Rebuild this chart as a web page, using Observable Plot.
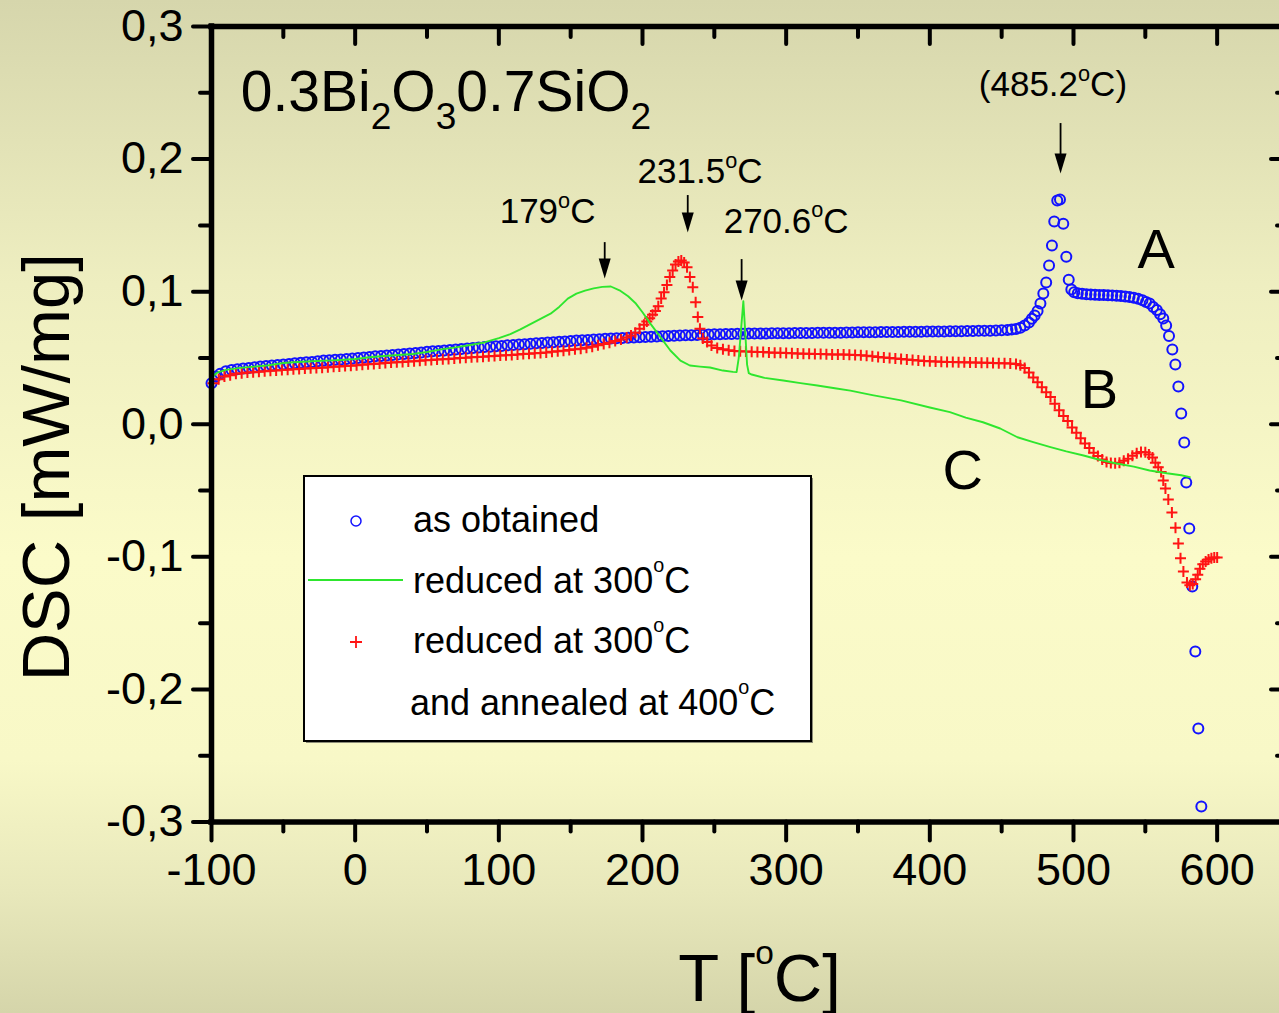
<!DOCTYPE html>
<html><head><meta charset="utf-8">
<script src="https://cdn.jsdelivr.net/npm/d3@7"></script>
<script src="https://cdn.jsdelivr.net/npm/@observablehq/plot@0.6"></script>
<style>
html,body{margin:0;padding:0;}
body{width:1279px;height:1013px;overflow:hidden;background:linear-gradient(to bottom,#d6d6ac 0%,#eeeec0 28%,#fbfbc9 55%,#f8f8c7 75%,#e8e8bb 88%,#d5d5aa 100%);}
#chart{position:relative;width:1279px;height:1013px;}
</style></head><body><div id="chart"></div>
<script>
// ---- axis ticks ----
const xMajor = [-100, 0, 100, 200, 300, 400, 500, 600];
const xMinor = [-50, 50, 150, 250, 350, 450, 550];
const yMajor = [-0.3, -0.2, -0.1, 0, 0.1, 0.2, 0.3];
const yMinor = [-0.25, -0.15, -0.05, 0.05, 0.15, 0.25];

// ---- series A: as obtained (blue circles) [T, DSC] ----
const seriesA = [[-100,.031],[-97,.036],[-94,.038],[-90,.040],[-86,.041],[-82,.0415],[-78,.042],[-74,.0425],[-70,.043],[-66,.0435],[-62,.044],[-58,.0443],[-54,.0447],[-50,.045],[-46,.0455],[-42,.046],[-38,.0463],[-34,.0467],[-30,.047],[-26,.0475],[-22,.048],[-18,.0483],[-14,.0486],[-10,.0489],[-6,.0492],[-2,.0495],[2,.050],[6,.0504],[10,.0508],[14,.0512],[18,.0515],[22,.0519],[26,.0523],[30,.0527],[34,.053],[38,.0534],[42,.0538],[46,.0542],[50,.0546],[54,.055],[58,.0553],[62,.0557],[66,.056],[70,.0564],[74,.0568],[78,.0572],[82,.0575],[86,.0578],[90,.0582],[94,.0585],[98,.0588],[102,.0591],[106,.0595],[110,.0598],[114,.0601],[118,.0604],[122,.0607],[126,.061],[130,.0613],[134,.0616],[138,.0619],[142,.0622],[146,.0625],[150,.0628],[154,.0631],[158,.0634],[162,.0636],[166,.0639],[170,.0641],[174,.0644],[178,.0646],[182,.0648],[186,.065],[190,.0652],[194,.0654],[198,.0656],[202,.0658],[206,.066],[210,.0662],[214,.0664],[218,.0666],[222,.0668],[226,.0669],[230,.0671],[234,.0672],[238,.0674],[242,.0675],[246,.0677],[250,.0678],[254,.0679],[258,.068],[262,.0681],[266,.0682],[270,.0683],[274,.0684],[278,.0684],[282,.0685],[286,.0685],[290,.0686],[294,.0686],[298,.0687],[302,.0687],[306,.0688],[310,.0688],[314,.0689],[318,.0689],[322,.069],[326,.069],[330,.069],[334,.0691],[338,.0691],[342,.0692],[346,.0692],[350,.0693],[354,.0693],[358,.0694],[362,.0694],[366,.0695],[370,.0695],[374,.0696],[378,.0696],[382,.0697],[386,.0697],[390,.0698],[394,.0698],[398,.0699],[402,.0699],[406,.07],[410,.07],[414,.0701],[418,.0702],[422,.0702],[426,.0703],[430,.0704],[434,.0705],[438,.0705],[442,.0706],[446,.0707],[450,.0709],[454,.0711],[457,.0714],[460,.0719],[463,.0728],[466,.0744],[469,.0768],[471,.0795],[473,.082],[475,.0855],[477,.091],[479,.0986],[481,.1069],[483,.1197],[485,.1348],[486.6,.1529],[488.7,.1687],[490.6,.1695],[492.9,.1513],[495,.1264],[496.7,.109],[498.5,.1016],[500.5,.0995],[503,.0988],[506,.0984],[509,.098],[512,.0978],[515,.0977],[518,.0975],[521,.0974],[524,.0973],[527,.0972],[530,.097],[533,.0968],[536,.0964],[539,.096],[542,.0954],[545,.0946],[548,.0935],[550.5,.0922],[553,.091],[555.5,.0885],[558,.0862],[560.3,.083],[562.5,.0797],[564.5,.0745],[566.5,.0665],[568.8,.0564],[570.9,.045],[573,.0285],[575,.0081],[577.1,-.0138],[578.5,-.044],[580.6,-.0787],[582.7,-.1224],[584.8,-.1714],[586.9,-.2295],[589,-.2883]];

// ---- series B: reduced at 300°C and annealed at 400°C (red plus) ----
const seriesB = [[-99,.031],[-95,.034],[-91,.036],[-87,.037],[-83,.038],[-79,.0385],[-75,.039],[-71,.0393],[-67,.0396],[-63,.04],[-59,.0403],[-55,.0406],[-51,.041],[-47,.0412],[-43,.0415],[-39,.0417],[-35,.042],[-31,.0422],[-27,.0425],[-23,.0427],[-19,.043],[-15,.0433],[-11,.0436],[-7,.0439],[-3,.0442],[1,.0445],[5,.0448],[9,.0452],[13,.0455],[17,.0458],[21,.0462],[25,.0465],[29,.0468],[33,.047],[37,.0473],[41,.0476],[45,.0479],[49,.0482],[53,.0485],[57,.0488],[61,.049],[65,.0493],[69,.0496],[73,.0499],[77,.0502],[81,.0505],[85,.0508],[89,.051],[93,.0513],[97,.0515],[101,.0518],[105,.052],[109,.0523],[113,.0526],[117,.0529],[121,.0532],[125,.0535],[129,.0538],[133,.0542],[137,.0546],[141,.055],[145,.0555],[149,.056],[153,.0565],[157,.057],[161,.0577],[165,.0585],[169,.0595],[173,.0605],[177,.0615],[181,.0627],[185,.064],[189,.0655],[192,.067],[195,.069],[198,.072],[201,.075],[203,.0775],[205,.08],[207,.0825],[209,.0855],[211,.089],[213,.0948],[215,.0995],[217,.105],[219,.111],[221,.116],[223,.1205],[225,.1228],[227,.1235],[229,.122],[231,.1185],[233,.111],[235,.1034],[237,.092],[238.5,.0808],[240,.072],[242,.0647],[245,.062],[248,.0594],[252,.0575],[256,.0565],[260,.0558],[264,.0553],[268,.055],[272,.0548],[276,.0546],[280,.0545],[284,.0544],[288,.0542],[292,.054],[296,.0539],[300,.0537],[304,.0535],[308,.0534],[312,.0532],[316,.0531],[320,.053],[324,.0529],[328,.0528],[332,.0527],[336,.0526],[340,.0526],[344,.0525],[348,.0523],[352,.052],[356,.0516],[360,.0512],[364,.0508],[368,.0504],[372,.05],[376,.0496],[380,.0492],[384,.0488],[388,.0484],[392,.048],[396,.0477],[400,.0475],[404,.0473],[408,.0471],[412,.047],[416,.0469],[420,.0468],[424,.0467],[428,.0466],[432,.0465],[436,.0464],[440,.0463],[444,.0462],[448,.0461],[452,.046],[456,.0458],[460,.0455],[463,.0445],[466,.0425],[469,.039],[472,.0352],[475,.0317],[478,.028],[481,.0242],[484,.0205],[487,.0155],[490,.0105],[493,.0062],[496,.0025],[499,-.0025],[502,-.0065],[505,-.0105],[508,-.0145],[511,-.018],[514,-.0215],[517,-.024],[520,-.0265],[523,-.0285],[526,-.0293],[529,-.0295],[532,-.029],[535,-.0275],[538,-.026],[541,-.0238],[544,-.0218],[547,-.021],[550,-.0212],[552.5,-.0228],[555,-.025],[557,-.029],[559,-.0325],[561,-.036],[562.5,-.0424],[564,-.0485],[566,-.0567],[568.5,-.0666],[571,-.078],[573,-.09],[574.5,-.101],[576.5,-.111],[579,-.1193],[581,-.1215],[583,-.1205],[585,-.117],[586.5,-.1135],[588,-.109],[590,-.1055],[592,-.1035],[594,-.102],[596,-.101],[598,-.1005],[600,-.1005]];

// ---- series C: reduced at 300°C (green line) ----
const seriesC = [[-99,.036],[-96,.039],[-90,.041],[-80,.0425],[-70,.0435],[-60,.0445],[-50,.0462],[-40,.047],[-30,.0475],[-20,.048],[-10,.0485],[0,.0492],[10,.0505],[20,.0515],[30,.0522],[40,.053],[50,.0545],[60,.0565],[70,.058],[80,.0598],[90,.0617],[100,.065],[108,.068],[115,.0715],[122,.0755],[130,.08],[136,.0834],[142,.0885],[148,.0948],[154,.0985],[160,.1008],[166,.1025],[172,.1036],[178,.1039],[184,.101],[190,.0965],[195,.0915],[200,.0845],[205.5,.0759],[212.5,.0657],[219.4,.0556],[226.4,.048],[233,.0443],[240,.0435],[247,.0428],[256,.0405],[263,.0395],[265.5,.0393],[267,.05],[268.5,.07],[270.2,.0928],[271.5,.07],[272.8,.045],[274,.0385],[276,.0375],[285,.035],[298,.033],[310,.031],[321.7,.0292],[335,.027],[344.7,.0254],[360,.022],[380,.018],[400,.0126],[414,.0091],[425,.005],[437,.0015],[449,-.0032],[461,-.0098],[472,-.0135],[484,-.0173],[495,-.0205],[507,-.0236],[518,-.0268],[530,-.0296],[542,-.032],[553,-.0349],[565,-.037],[575,-.0385],[581,-.0399]];

// ---- annotations ----
const titleText = [{label: "0.3Bi_2O_30.7SiO_2", x: -79.6, y: 0.2366}];
const peakLabels = [
  {label: "179^oC", x: 100.6, y: 0.1521},
  {label: "231.5^oC", x: 196.6, y: 0.1823},
  {label: "270.6^oC", x: 256.5, y: 0.1446},
  {label: "(485.2^oC)", x: 434.1, y: 0.2479}
];
const peakArrows = [
  {x: 173.7, y1: 0.137, y2: 0.1099},
  {x: 231.5, y1: 0.1725, y2: 0.1446},
  {x: 269.0, y1: 0.1242, y2: 0.0933},
  {x: 491.0, y1: 0.2268, y2: 0.1891}
];
const curveLabels = [
  {label: "A", x: 544.6, y: 0.1175},
  {label: "B", x: 505.0, y: 0.0119},
  {label: "C", x: 408.9, y: -0.0485}
];
const legendLabels = ["as obtained", "reduced at 300^oC", "reduced at 300^oC", "and annealed at 400^oC"];
const xTitle = "T [^oC]";
const yTitle = "DSC [mW/mg]";

// ---- styles ----
const FONT = "'Liberation Sans', Arial, Helvetica, sans-serif";
const BLUE = "#1212ff", RED = "#ff1414", GREEN = "#2ee62e";

const plusSymbol = {draw(ctx, size) { const h = Math.sqrt(size / Math.PI); ctx.moveTo(-h, 0); ctx.lineTo(h, 0); ctx.moveTo(0, -h); ctx.lineTo(0, h); }};
const headSymbol = {draw(ctx) { ctx.moveTo(-6, -20); ctx.lineTo(6, -20); ctx.lineTo(0, 0); ctx.closePath(); }};

const fmtX = d => String(d);
const fmtY = d => (d < -1e-9 ? "-" : "") + Math.abs(d).toFixed(1).replace(".", ",");

const plot = Plot.plot({
  width: 1279, height: 1013,
  marginLeft: 211, marginRight: 0, marginTop: 26, marginBottom: 191.5,
  x: {domain: [-100, 643.4]},
  y: {domain: [-0.3, 0.3]},
  style: {background: "transparent", fontFamily: FONT, color: "black", overflow: "visible"},
  marks: [
    // data
    Plot.dot(seriesA, {x: d => d[0], y: d => d[1], r: 5, stroke: BLUE, strokeWidth: 2, fill: "none"}),
    Plot.dot(seriesB, {x: d => d[0], y: d => d[1], r: 5.5, symbol: plusSymbol, stroke: RED, strokeWidth: 2, fill: "none"}),
    Plot.line(seriesC, {x: d => d[0], y: d => d[1], stroke: GREEN, strokeWidth: 1.9}),
    // axes
    Plot.axisY(yMajor, {anchor: "left", tickSize: 18, tickPadding: 10, strokeWidth: 4, strokeLinecap: "round", tickFormat: fmtY, fontSize: 45, label: null}),
    Plot.axisY(yMinor, {anchor: "left", tickSize: 11, strokeWidth: 4, strokeLinecap: "round", fill: "none", tickFormat: () => "", label: null}),
    Plot.axisY(yMajor, {anchor: "right", tickSize: -9, strokeWidth: 4, strokeLinecap: "round", fill: "none", tickFormat: () => "", label: null}),
    Plot.axisY(yMinor, {anchor: "right", tickSize: -3, strokeWidth: 4, strokeLinecap: "round", fill: "none", tickFormat: () => "", label: null}),
    Plot.axisX(xMajor, {anchor: "bottom", tickSize: 19, tickPadding: 12, strokeWidth: 4, strokeLinecap: "round", tickFormat: fmtX, fontSize: 45, label: null}),
    Plot.axisX(xMinor, {anchor: "bottom", tickSize: 10, strokeWidth: 4, strokeLinecap: "round", fill: "none", tickFormat: () => "", label: null}),
    Plot.axisX(xMajor, {anchor: "top", tickSize: -17, strokeWidth: 4, strokeLinecap: "round", fill: "none", tickFormat: () => "", label: null}),
    Plot.axisX(xMinor, {anchor: "top", tickSize: -10, strokeWidth: 4, strokeLinecap: "round", fill: "none", tickFormat: () => "", label: null}),
    Plot.ruleX([-100], {strokeWidth: 5.5, strokeLinecap: "square"}),
    Plot.ruleY([0.3], {strokeWidth: 5.5, strokeLinecap: "square"}),
    Plot.ruleY([-0.3], {strokeWidth: 5.5, strokeLinecap: "square"}),
    // annotations
    Plot.ruleX(peakArrows, {x: "x", y1: "y1", y2: "y2", strokeWidth: 1.8, insetBottom: 12}),
    Plot.dot(peakArrows, {x: "x", y: "y2", r: 3, symbol: headSymbol, fill: "black", stroke: "none"}),
    Plot.text(peakLabels, {x: "x", y: "y", text: "label", textAnchor: "start", lineAnchor: "bottom", fontSize: 35}),
    Plot.text(curveLabels, {x: "x", y: "y", text: "label", textAnchor: "start", lineAnchor: "bottom", fontSize: 56}),
    Plot.text(titleText, {x: "x", y: "y", text: "label", textAnchor: "start", lineAnchor: "bottom", fontSize: 57}),
    Plot.text([xTitle], {frameAnchor: "bottom", text: d => d, textAnchor: "middle", lineAnchor: "bottom", dx: 14, dy: 178.5, fontSize: 67}),
    Plot.text([yTitle], {frameAnchor: "left", text: d => d, textAnchor: "middle", rotate: -90, lineAnchor: "bottom", dx: -143, dy: 43, fontSize: 67})
  ]
});

const richStyles = {
  "T [^oC]": {sup: 0.5, rise: 0.55, sub: 0.65, drop: 0.32},
  legend: {sup: 0.55, rise: 0.58, sub: 0.65, drop: 0.32},
  def: {sup: 0.62, rise: 0.43, sub: 0.65, drop: 0.32}
};
function richify(el, str, base, st) {
  st = st || richStyles.def;
  el.textContent = "";
  const segs = [];
  for (let i = 0; i < str.length; i++) {
    const c = str[i];
    if ((c === "^" || c === "_") && i + 1 < str.length) { segs.push({t: str[i + 1], k: c}); i++; }
    else if (segs.length && segs[segs.length - 1].k === "n") segs[segs.length - 1].t += c;
    else segs.push({t: c, k: "n"});
  }
  let shift = 0;
  for (const s of segs) {
    const target = s.k === "^" ? -st.rise * base : s.k === "_" ? st.drop * base : 0;
    const ts = document.createElementNS("http://www.w3.org/2000/svg", "tspan");
    if (target !== shift) ts.setAttribute("dy", target - shift);
    if (s.k !== "n") ts.setAttribute("font-size", (s.k === "^" ? st.sup : st.sub) * base);
    ts.textContent = s.t;
    el.appendChild(ts);
    shift = target;
  }
}

d3.select(plot).selectAll("text").each(function () {
  const s = this.textContent;
  if (/[\^_]/.test(s)) {
    const fsEl = this.closest("[font-size]");
    const base = fsEl ? parseFloat(fsEl.getAttribute("font-size")) : 35;
    richify(this, s, base, richStyles[s]);
  }
});

// ---- legend box ----
const svg = d3.select(plot);
const lg = svg.append("g").attr("font-family", FONT).attr("font-size", 36).attr("fill", "black").attr("text-anchor", "start");
lg.append("rect").attr("x", 306).attr("y", 478).attr("width", 507).attr("height", 265).attr("fill", "#8c8c78");
lg.append("rect").attr("x", 304).attr("y", 476).attr("width", 507).attr("height", 265).attr("fill", "white").attr("stroke", "black").attr("stroke-width", 2);
lg.append("circle").attr("cx", 356).attr("cy", 521).attr("r", 5).attr("fill", "none").attr("stroke", BLUE).attr("stroke-width", 1.5);
lg.append("line").attr("x1", 308).attr("x2", 403).attr("y1", 580).attr("y2", 580).attr("stroke", GREEN).attr("stroke-width", 2);
lg.append("path").attr("d", "M350,642H362M356,636V648").attr("stroke", RED).attr("stroke-width", 1.8);
const legPos = [[413, 532], [413, 593], [413, 653], [410, 715]];
legendLabels.forEach((l, i) => {
  const t = lg.append("text").attr("x", legPos[i][0]).attr("y", legPos[i][1]).attr("text-anchor", "start");
  richify(t.node(), l, 36, richStyles.legend);
});

document.getElementById("chart").appendChild(plot);
</script></body></html>
